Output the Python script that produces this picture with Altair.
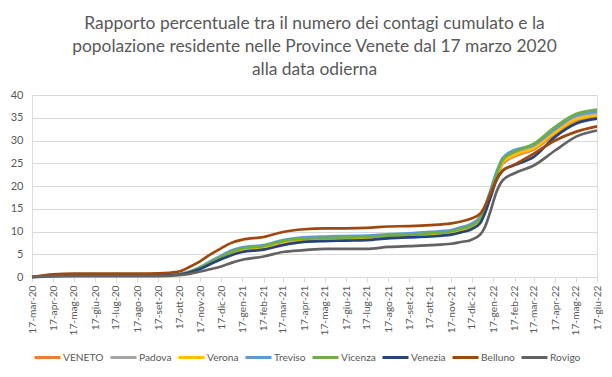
import altair as alt
import pandas as pd
import json

# ---------------- data ----------------
dates = [
    "2020-03-17", "2020-04-17", "2020-05-17", "2020-06-17", "2020-07-17", "2020-08-17",
    "2020-09-17", "2020-10-17", "2020-11-01", "2020-11-17", "2020-12-01", "2020-12-17",
    "2021-01-01", "2021-01-17", "2021-02-17", "2021-03-17", "2021-04-17", "2021-05-17",
    "2021-06-17", "2021-07-17", "2021-08-17", "2021-09-17", "2021-10-17", "2021-11-17",
    "2021-12-01", "2021-12-15", "2021-12-29", "2022-01-05", "2022-01-12", "2022-01-22",
    "2022-01-31", "2022-02-17", "2022-03-17", "2022-04-17", "2022-05-17", "2022-06-17",
]

series_names = ["VENETO", "Padova", "Verona", "Treviso", "Vicenza", "Venezia", "Belluno", "Rovigo"]
series_colors = ["#ED7D31", "#A5A5A5", "#FFC000", "#5B9BD5", "#70AD47", "#264478", "#9E480E", "#636363"]

veneto = [0.0, 0.35, 0.42, 0.42, 0.42, 0.42, 0.45, 0.6, 1.1, 1.9, 3.0, 4.1, 5.1, 5.8, 6.3, 7.3, 8.0, 8.2,
          8.3, 8.4, 8.7, 8.9, 9.2, 9.6, 10.1, 10.7, 12.2, 14.4, 17.6, 21.8, 24.9, 26.5, 28.0, 31.4, 34.3, 35.2]
padova = [0.0, 0.35, 0.45, 0.45, 0.45, 0.45, 0.5, 0.6, 1.1, 2.0, 3.1, 4.3, 5.4, 6.1, 6.6, 7.7, 8.3, 8.5,
          8.6, 8.7, 9.0, 9.2, 9.5, 9.9, 10.5, 11.1, 12.6, 14.8, 18.0, 22.4, 25.6, 27.2, 28.8, 32.3, 35.2, 36.0]
verona = [0.0, 0.35, 0.45, 0.45, 0.45, 0.45, 0.5, 0.6, 1.1, 2.0, 3.0, 4.2, 5.3, 6.0, 6.5, 7.5, 8.2, 8.4,
          8.5, 8.6, 8.9, 9.1, 9.4, 9.8, 10.3, 10.9, 12.4, 14.6, 17.8, 22.0, 25.2, 26.8, 28.3, 31.8, 34.6, 35.5]
treviso = [0.0, 0.3, 0.4, 0.4, 0.4, 0.4, 0.45, 0.6, 1.2, 2.2, 3.4, 4.7, 5.8, 6.5, 7.0, 8.1, 8.7, 8.9,
           9.0, 9.1, 9.4, 9.6, 9.9, 10.3, 10.9, 11.6, 13.2, 15.5, 18.6, 23.2, 26.2, 27.9, 29.0, 32.5, 35.5, 36.4]
vicenza = [0.0, 0.3, 0.4, 0.4, 0.4, 0.4, 0.45, 0.6, 1.1, 2.1, 3.2, 4.4, 5.5, 6.3, 6.8, 7.9, 8.4, 8.6,
           8.7, 8.8, 9.1, 9.3, 9.6, 10.0, 10.6, 11.2, 12.8, 15.0, 18.2, 22.6, 25.8, 27.5, 29.3, 33.0, 35.8, 36.8]
venezia = [0.0, 0.25, 0.35, 0.35, 0.35, 0.35, 0.4, 0.55, 1.0, 1.8, 2.8, 3.9, 4.8, 5.5, 6.0, 7.0, 7.7, 7.9,
           8.0, 8.1, 8.5, 8.7, 8.9, 9.3, 9.8, 10.4, 11.8, 14.0, 17.0, 21.4, 23.4, 24.6, 26.4, 30.8, 33.7, 34.8]
belluno = [0.0, 0.6, 0.75, 0.75, 0.75, 0.75, 0.8, 1.2, 2.2, 3.5, 4.9, 6.3, 7.5, 8.2, 8.8, 9.9, 10.5, 10.7,
           10.7, 10.8, 11.1, 11.2, 11.4, 11.8, 12.2, 12.8, 13.9, 15.6, 18.0, 21.4, 23.4, 24.7, 27.1, 30.0, 31.9, 33.1]
rovigo = [0.0, 0.15, 0.2, 0.2, 0.2, 0.2, 0.2, 0.4, 0.7, 1.2, 1.7, 2.3, 3.1, 3.8, 4.5, 5.5, 5.9, 6.2,
          6.2, 6.2, 6.6, 6.8, 7.0, 7.3, 7.7, 8.1, 9.3, 11.0, 14.0, 18.8, 21.3, 22.8, 24.5, 27.8, 30.8, 32.2]

series_values = [veneto, padova, verona, treviso, vicenza, venezia, belluno, rovigo]

month_abbr = ["gen", "feb", "mar", "apr", "mag", "giu", "lug", "ago", "set", "ott", "nov", "dic"]
y_ticks = [0, 5, 10, 15, 20, 25, 30, 35, 40]

title_lines = [
    "Rapporto percentuale tra il numero dei contagi cumulato e la",
    "popolazione residente nelle Province Venete dal 17 marzo 2020",
    "alla data odierna",
]

# ---------------- table ----------------
rows = []
for name, vals in zip(series_names, series_values):
    for d, v in zip(dates, vals):
        rows.append({"data": d + "T00:00:00", "serie": name, "valore": v})
df = pd.DataFrame(rows)

# monthly ticks on the 17th, from mar-20 to giu-22
tick_values = []
y, m = 2020, 3
while (y, m) <= (2022, 6):
    tick_values.append(alt.DateTime(year=y, month=m, date=17))
    m += 1
    if m > 12:
        m, y = 1, y + 1

label_expr = ("'17-' + " + json.dumps(month_abbr).replace('"', "'") +
              "[month(datum.value)] + '-' + timeFormat(datum.value, '%y')")

FONT = "Lato"
TXT = "#595959"

color_scale = alt.Scale(domain=series_names, range=series_colors)

base = alt.Chart(df).mark_line(strokeWidth=2.7, interpolate="monotone").encode(
    x=alt.X("data:T",
            scale=alt.Scale(domain=[alt.DateTime(year=2020, month=3, date=17),
                                    alt.DateTime(year=2022, month=6, date=17)]),
            axis=alt.Axis(values=tick_values, labelExpr=label_expr, labelAngle=-90,
                          grid=False, domainColor="#D9D9D9", tickColor="#D9D9D9",
                          tickSize=5, labelPadding=3, labelColor=TXT, labelFontSize=10.2,
                          labelFont=FONT, title=None, labelOverlap=False)),
    y=alt.Y("valore:Q", scale=alt.Scale(domain=[0, 40], nice=False),
            axis=alt.Axis(values=y_ticks, grid=True, gridColor="#D9D9D9", domain=False,
                          ticks=False, labelPadding=9, labelColor=TXT, labelFontSize=11,
                          labelFont=FONT, title=None)),
    color=alt.Color("serie:N", scale=color_scale,
                    legend=alt.Legend(title=None, orient="none", direction="horizontal",
                                      legendX=1, legendY=248, columns=8, gridAlign="none",
                                      symbolType="stroke", symbolSize=676,
                                      symbolStrokeWidth=3, labelFont=FONT,
                                      labelFontSize=10.2, labelColor=TXT, labelOffset=1,
                                      columnPadding=0, padding=0, labelBaseline="middle")),
)

layers = [base.transform_filter(alt.datum.serie == name) for name in series_names]

chart = alt.layer(*layers).properties(
    width=565, height=182,
    autosize=alt.AutoSizeParams(type="none"),
    padding={"left": 24, "top": 87, "right": 7, "bottom": 92},
    title=alt.TitleParams(text=title_lines, font=FONT, fontSize=17.4, fontWeight="normal",
                          color=TXT, lineHeight=23, anchor="middle", offset=11),
).configure_view(stroke=None).configure(background="white")

chart.save("out.html", embed_options={"renderer": "svg", "actions": False})
